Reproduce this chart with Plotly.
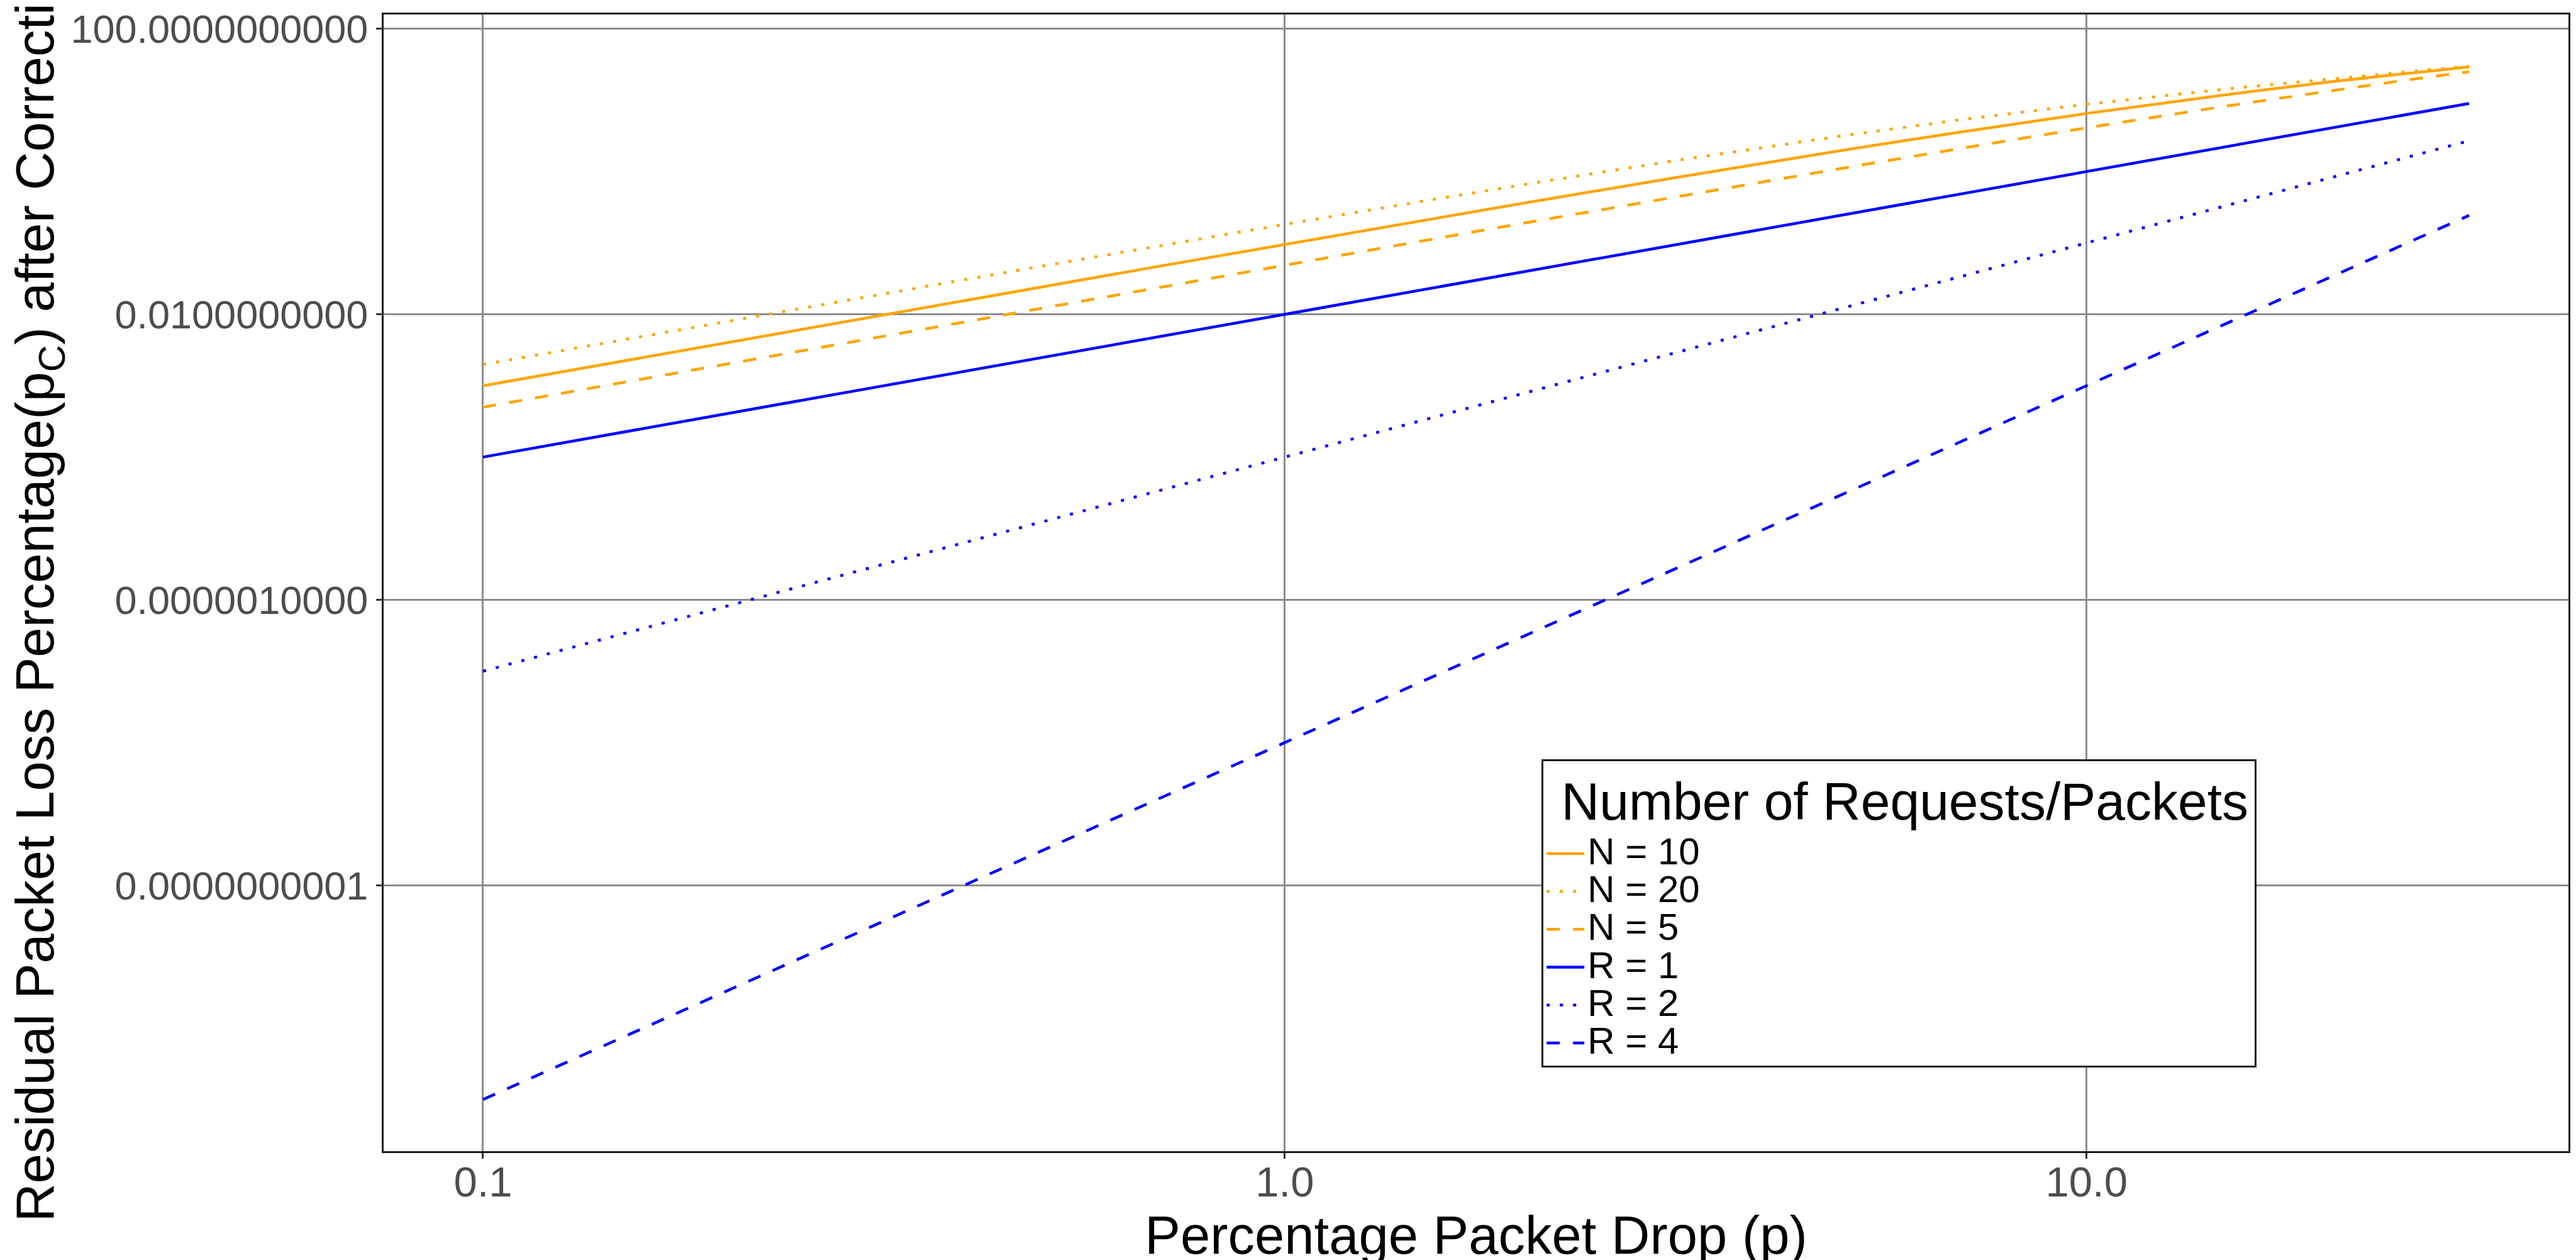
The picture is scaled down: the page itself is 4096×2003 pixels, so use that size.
import plotly.graph_objects as go

# Percentage packet drop (p)
p_drop = [0.1, 0.15, 0.2, 0.3, 0.4, 0.5, 0.7, 1, 1.5, 2, 3, 4, 5, 7, 10, 15, 20, 25, 30]

# Residual packet loss percentage after correction
n10 = [9.96e-4, 2.24e-3, 3.96e-3, 8.88e-3, 0.0157, 0.0244, 0.0475, 0.0956, 0.210, 0.366,
       0.788, 1.34, 2.01, 3.61, 6.51, 12.0, 17.9, 23.6, 29.2]
n20 = [1.98e-3, 4.44e-3, 7.85e-3, 0.0175, 0.0308, 0.0477, 0.0917, 0.182, 0.391, 0.665,
       1.37, 2.23, 3.21, 5.36, 8.78, 14.4, 19.8, 24.9, 30.0]
n5 = [4.99e-4, 1.12e-3, 1.99e-3, 4.47e-3, 7.94e-3, 0.0124, 0.0242, 0.0490, 0.109, 0.192,
      0.424, 0.739, 1.13, 2.13, 4.10, 8.34, 13.4, 19.1, 25.0]
r1 = [1.0e-4, 2.25e-4, 4.0e-4, 9.0e-4, 1.6e-3, 2.5e-3, 4.9e-3, 0.01, 0.0225, 0.04,
      0.09, 0.16, 0.25, 0.49, 1.0, 2.25, 4.0, 6.25, 9.0]
r2 = [1.0e-7, 3.38e-7, 8.0e-7, 2.7e-6, 6.4e-6, 1.25e-5, 3.43e-5, 1.0e-4, 3.38e-4, 8.0e-4,
      2.7e-3, 6.4e-3, 0.0125, 0.0343, 0.1, 0.338, 0.8, 1.56, 2.7]
r4 = [1.0e-13, 7.6e-13, 3.2e-12, 2.43e-11, 1.02e-10, 3.13e-10, 1.68e-9, 1.0e-8, 7.6e-8, 3.2e-7,
      2.43e-6, 1.02e-5, 3.13e-5, 1.68e-4, 1.0e-3, 7.6e-3, 0.032, 0.0977, 0.243]

series_names = ["N = 10", "N = 20", "N = 5", "R = 1", "R = 2", "R = 4"]
series_values = [n10, n20, n5, r1, r2, r4]
series_colors = ["#FFA500", "#FFA500", "#FFA500", "#0000FF", "#0000FF", "#0000FF"]
series_dash = ["solid", "5px,16px", "21px,21px", "solid", "5px,16px", "21px,21px"]

legend_title = "Number of Requests/Packets"

y_tickvals = [1e-10, 1e-6, 1e-2, 1e2]
y_ticktext = ["0.0000000001", "0.0000010000", "0.0100000000", "100.0000000000"]
x_tickvals = [0.1, 1, 10]
x_ticktext = ["0.1", "1.0", "10.0"]

FONT = "Liberation Sans, Arial, sans-serif"

fig = go.Figure()
for name, vals, col, dash in zip(series_names, series_values, series_colors, series_dash):
    fig.add_trace(go.Scatter(
        x=p_drop, y=vals, mode="lines",
        name="<span style='font-size:60px'>" + name + "</span>",
        line=dict(color=col, width=4.5, dash=dash),
        legendgroup="all",
        legendgrouptitle=dict(text="&nbsp;" + legend_title,
                              font=dict(family=FONT, size=84, color="black")),
    ))

axis_common = dict(
    showline=True, mirror=True, linecolor="#1A1A1A", linewidth=3,
    showgrid=True, gridcolor="#8C8C8C", gridwidth=2.5,
    ticks="outside", ticklen=9, tickwidth=2.5, tickcolor="#333333",
    zeroline=False,
)

fig.update_xaxes(
    type="log", range=[-1.1239, 1.6010],
    tickvals=x_tickvals, ticktext=x_ticktext,
    tickfont=dict(family=FONT, size=67, color="#4D4D4D"),
    ticklabelstandoff=-20,
    title=dict(text="Percentage Packet Drop (p)",
               font=dict(family=FONT, size=85, color="black"), standoff=0),
    **axis_common,
)
fig.update_yaxes(
    type="log", range=[-13.7238, 2.2006],
    tickvals=y_tickvals, ticktext=y_ticktext,
    tickfont=dict(family=FONT, size=63, color="#4D4D4D"),
    title=dict(text="Residual Packet Loss Percentage(p<sub>C</sub>) after Correction",
               font=dict(family=FONT, size=85, color="black"), standoff=0),
    **axis_common,
)

fig.update_layout(
    width=4096, height=2003,
    margin=dict(l=602, r=20, t=15, b=181, autoexpand=False),
    paper_bgcolor="white", plot_bgcolor="white",
    font=dict(family=FONT),
    legend=dict(
        x=0.530, y=0.345, xanchor="left", yanchor="top",
        bgcolor="white", bordercolor="#1A1A1A", borderwidth=3,
        font=dict(family=FONT, size=44, color="black"),
        itemwidth=60, tracegroupgap=0, traceorder="grouped",
    ),
    showlegend=True,
)

fig.write_html("out.html")
